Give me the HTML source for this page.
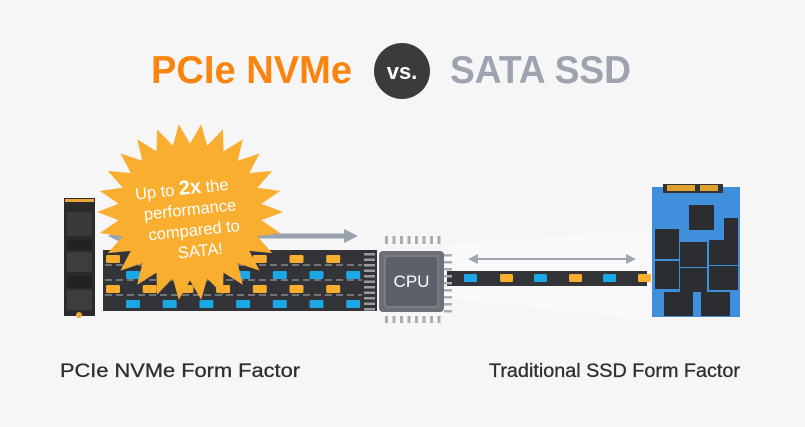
<!DOCTYPE html>
<html><head><meta charset="utf-8"><style>
html,body{margin:0;padding:0;background:#f6f6f6;}
svg{display:block;font-family:"Liberation Sans",sans-serif;}
</style></head><body>
<svg id="s" width="805" height="427" viewBox="0 0 805 427" xmlns="http://www.w3.org/2000/svg">
<rect width="805" height="427" fill="#f6f6f6"/>
<polygon points="445,245 650,230 650,320 445,298" fill="#f9f9f9"/>
<text x="151" y="83" font-size="39" font-weight="bold" fill="#f98510" textLength="201" lengthAdjust="spacingAndGlyphs">PCIe NVMe</text>
<circle cx="402" cy="71" r="28" fill="#3a3b3d"/>
<text x="402" y="79" font-size="22" font-weight="bold" fill="#fff" text-anchor="middle">vs.</text>
<text x="450" y="83" font-size="39" font-weight="bold" fill="#9da4b0" textLength="181" lengthAdjust="spacingAndGlyphs">SATA SSD</text>

<line x1="112" y1="236" x2="348" y2="236" stroke="#9aa3ad" stroke-width="5"/>
<polygon points="108,236 122,229 122,243" fill="#9aa3ad"/>
<polygon points="358,236 344,229 344,243" fill="#9aa3ad"/>
<line x1="472" y1="259" x2="632" y2="259" stroke="#a0a7b0" stroke-width="2"/>
<polygon points="468,259 478,254 478,264" fill="#a0a7b0"/>
<polygon points="636,259 626,254 626,264" fill="#a0a7b0"/>

<rect x="103" y="250" width="274" height="61" fill="#333437"/>
<g id="wide"></g>
<rect x="447" y="271" width="200" height="15" fill="#333437"/>
<g id="narrow"></g>

<g id="pins" fill="#a9adb3"></g>
<rect x="379" y="251" width="65" height="61" rx="4" fill="#6d7077"/>
<rect x="385" y="256" width="53" height="51" rx="3" fill="#5c6068" stroke="#7e828a" stroke-width="1.5"/>
<text x="411.5" y="287" font-size="17" fill="#fff" text-anchor="middle">CPU</text>

<rect x="64" y="198" width="31" height="118" fill="#2b2b2d"/>
<rect x="65" y="199" width="29" height="3" fill="#e8a93a"/>
<rect x="67" y="212" width="25" height="24" fill="#3a3a3c"/>
<rect x="67" y="240" width="25" height="10" fill="#222"/>
<rect x="67" y="252" width="25" height="20" fill="#3d3d40"/>
<rect x="67" y="276" width="25" height="12" fill="#222"/>
<rect x="67" y="290" width="25" height="20" fill="#3d3d40"/>
<circle cx="79" cy="315" r="3" fill="#e8a93a"/>

<polygon id="star" fill="#f9ae30"/>
<g fill="#fff" font-size="16.5" text-anchor="middle" transform="rotate(-6 190 210)">
<text x="184" y="194">Up to <tspan font-weight="bold" font-size="20">2x</tspan> the</text>
<text x="190" y="215">performance</text>
<text x="192" y="236">compared to</text>
<text x="196" y="257">SATA!</text>
</g>

<rect x="652" y="187" width="88" height="130" fill="#3f8fdd"/>
<rect x="663" y="184" width="60" height="9" fill="#333"/>
<rect x="667" y="185" width="28" height="6" fill="#e0a133"/>
<rect x="700" y="185" width="18" height="6" fill="#e0a133"/>
<rect x="689" y="205" width="25" height="25" fill="#2c2d30"/>
<rect x="724" y="218" width="14" height="22" fill="#2c2d30"/>
<rect x="655" y="229" width="24" height="30" fill="#2c2d30"/>
<rect x="680" y="242" width="27" height="25" fill="#2c2d30"/>
<rect x="709" y="240" width="29" height="25" fill="#2c2d30"/>
<rect x="655" y="261" width="24" height="28" fill="#2c2d30"/>
<rect x="680" y="268" width="27" height="24" fill="#2c2d30"/>
<rect x="709" y="266" width="29" height="24" fill="#2c2d30"/>
<rect x="664" y="292" width="29" height="24" fill="#2c2d30"/>
<rect x="701" y="292" width="29" height="24" fill="#2c2d30"/>

<text x="60" y="377" font-size="19" fill="#2e2e2e" stroke="#2e2e2e" stroke-width="0.3" textLength="240" lengthAdjust="spacingAndGlyphs">PCIe NVMe Form Factor</text>
<text x="489" y="377" font-size="19" fill="#2e2e2e" stroke="#2e2e2e" stroke-width="0.3" textLength="251" lengthAdjust="spacingAndGlyphs">Traditional SSD Form Factor</text>
</svg>
<script>
var NS="http://www.w3.org/2000/svg";
function el(p,t,a){var e=document.createElementNS(NS,t);for(var k in a)e.setAttribute(k,a[k]);p.appendChild(e);return e;}
var w=document.getElementById("wide");
var rows=[[255,"#f9ae30",106],[271,"#1aa9e6",126],[285,"#f9ae30",106],[300,"#1aa9e6",126]];
rows.forEach(function(r){for(var x=r[2];x<360;x+=36.7)el(w,"rect",{x:x,y:r[0],width:14,height:8,rx:1.5,fill:r[1]});});
[265,280,295].forEach(function(y){el(w,"line",{x1:105,y1:y,x2:362,y2:y,stroke:"#9a9ca0","stroke-width":1.3,"stroke-dasharray":"7 4"});});
for(var y=253;y<310;y+=5.5)el(w,"rect",{x:364,y:y,width:11,height:2.5,fill:"#9a9ca0"});
var n=document.getElementById("narrow");
var xs=[464,500,534,569,603,638],cs=["#1aa9e6","#f9ae30","#1aa9e6","#f9ae30","#1aa9e6","#f9ae30"];
xs.forEach(function(x,i){el(n,"rect",{x:x,y:274,width:13,height:8,rx:1.5,fill:cs[i]});});
var p=document.getElementById("pins");
for(var i=0;i<8;i++){var x=385+i*7.5;el(p,"rect",{x:x,y:236,width:3,height:8});el(p,"rect",{x:x,y:316,width:3,height:7});}
for(var i=0;i<9;i++){var y=254+i*7;el(p,"rect",{x:444,y:y,width:8,height:2.5});}
var pts=[],N=26,cx=190,cy=212;
for(var i=0;i<2*N;i++){var a=Math.PI*i/N,r=i%2?72:93;pts.push((cx+r*Math.cos(a)).toFixed(1)+","+(cy+r*0.95*Math.sin(a)).toFixed(1));}
document.getElementById("star").setAttribute("points",pts.join(" "));
</script>
</body></html>
